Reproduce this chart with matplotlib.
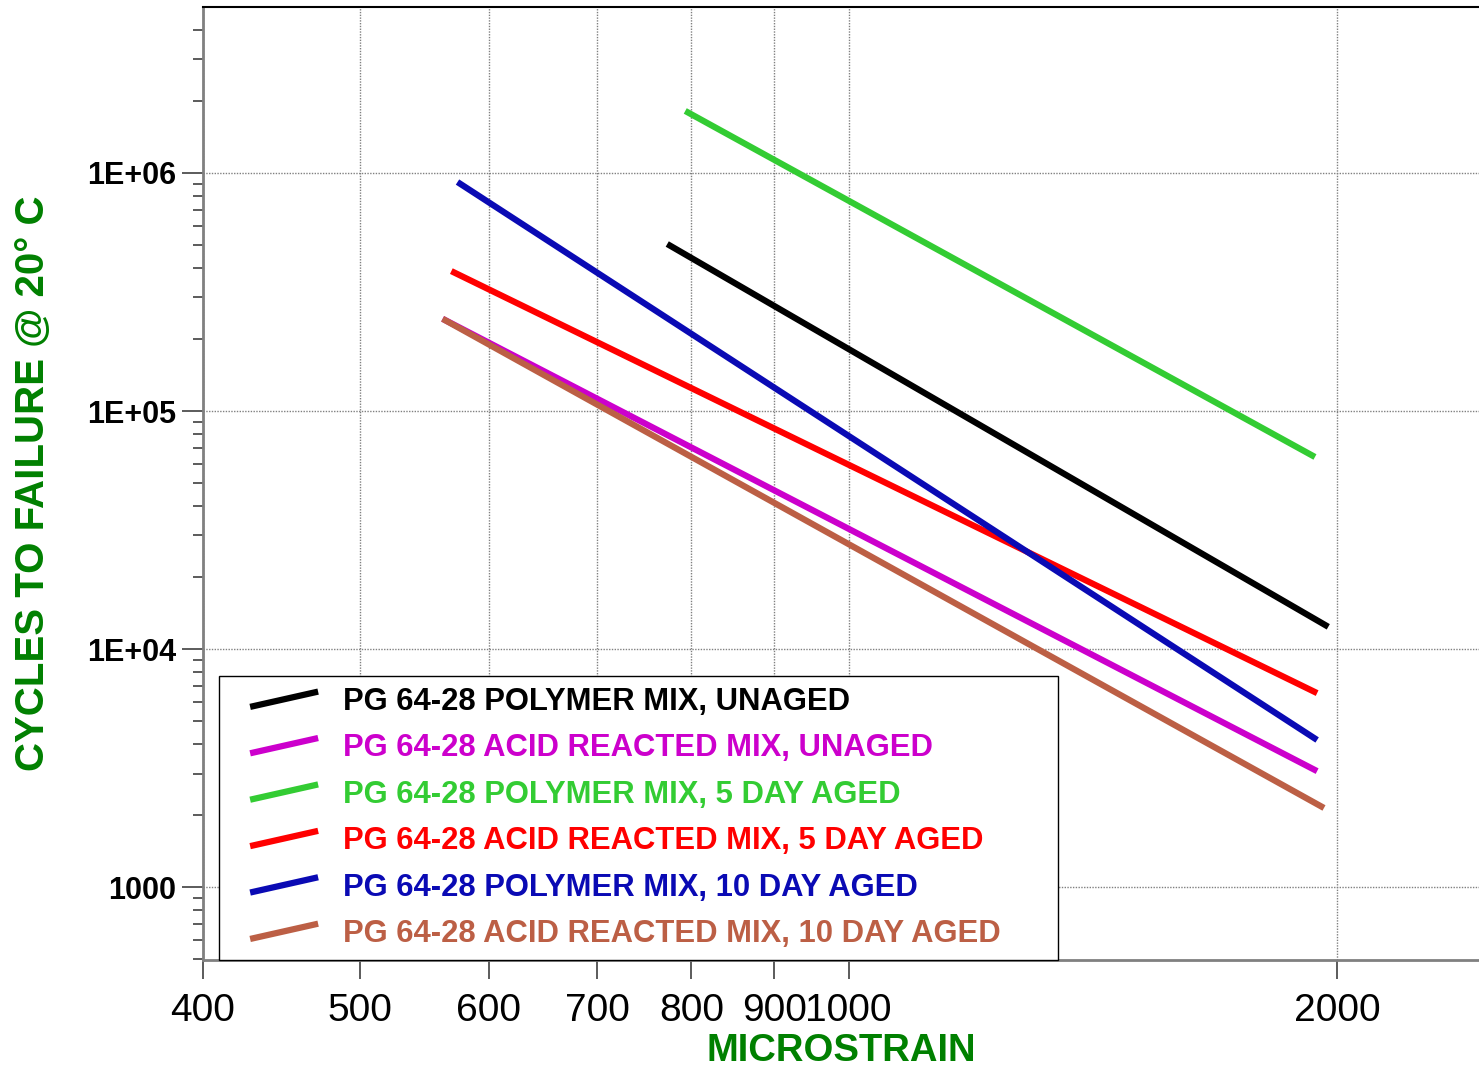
import numpy as np
import matplotlib
matplotlib.use("Agg")
import matplotlib.pyplot as plt
from matplotlib.lines import Line2D
from matplotlib.legend_handler import HandlerBase
from matplotlib.ticker import FixedLocator, FixedFormatter, LogLocator, NullLocator, NullFormatter

plt.rcParams['font.family'] = ['Liberation Sans', 'DejaVu Sans']

# Fatigue lines (end points of each fitted power-law line)
labels = [
    "PG 64-28 POLYMER MIX, UNAGED",
    "PG 64-28 ACID REACTED MIX, UNAGED",
    "PG 64-28 POLYMER MIX, 5 DAY AGED",
    "PG 64-28 ACID REACTED MIX, 5 DAY AGED",
    "PG 64-28 POLYMER MIX, 10 DAY AGED",
    "PG 64-28 ACID REACTED MIX, 10 DAY AGED",
]
colors = ["#000000", "#CC00CC", "#33CC33", "#FF0000", "#0A0AB4", "#BC5F45"]

strain_start = [773, 562, 793, 569, 574, 562]
strain_end = [1975, 1944, 1938, 1944, 1944, 1963]
cycles_start = [503000, 244000, 1822000, 387000, 916000, 244000]
cycles_end = [12400, 3070, 64100, 6530, 4150, 2150]

xticks = [400, 500, 600, 700, 800, 900, 1000, 2000]
xticklabels = ["400", "500", "600", "700", "800", "900", "1000", "2000"]
yticks = [1000, 1e4, 1e5, 1e6]
yticklabels = ["1000", "1E+04", "1E+05", "1E+06"]


class SlantHandler(HandlerBase):
    # legend handle drawn as a short rising line, like the original software
    def create_artists(self, legend, orig_handle, xdescent, ydescent,
                       width, height, fontsize, trans):
        x0 = -xdescent + width * 0.23
        x1 = -xdescent + width
        yc = -ydescent + height / 2.0
        line = Line2D([x0, x1], [yc - 5.5, yc + 5.5],
                      color=orig_handle.get_color(),
                      linewidth=orig_handle.get_linewidth(),
                      solid_capstyle='butt')
        line.set_transform(trans)
        return [line]


fig = plt.figure(figsize=(14.79, 10.69), dpi=100)
ax = fig.add_axes([203 / 1479, 109 / 1069, 1276 / 1479, 953 / 1069])

handles = []
for i in range(len(labels)):
    h, = ax.plot([strain_start[i], strain_end[i]], [cycles_start[i], cycles_end[i]],
                 color=colors[i], linewidth=4.5, solid_capstyle='butt', label=labels[i], zorder=3)
    handles.append(h)

ax.set_xscale('log')
ax.set_yscale('log')
ax.set_xlim(400, 2446)
ax.set_ylim(494, 4.98e6)

ax.xaxis.set_major_locator(FixedLocator(xticks))
ax.xaxis.set_major_formatter(FixedFormatter(xticklabels))
ax.xaxis.set_minor_locator(NullLocator())
ax.yaxis.set_major_locator(FixedLocator(yticks))
ax.yaxis.set_major_formatter(FixedFormatter(yticklabels))
ax.yaxis.set_minor_locator(LogLocator(base=10, subs=np.arange(2, 10)))
ax.yaxis.set_minor_formatter(NullFormatter())

ax.tick_params(axis='x', which='major', direction='out', length=14, width=1.2,
               color='#404040', labelsize=28, pad=10)
ax.tick_params(axis='y', which='major', direction='out', length=15, width=1.2,
               color='#404040', labelsize=22, pad=4)
ax.tick_params(axis='y', which='minor', direction='out', length=7, width=1.2, color='#404040')
for t in ax.get_yticklabels():
    t.set_fontweight('bold')

ax.grid(True, which='major', color='#808080', linestyle=(0, (1, 1)), linewidth=1.0)

ax.spines['right'].set_visible(False)
ax.spines['top'].set_color('black')
ax.spines['top'].set_linewidth(1.5)
ax.spines['left'].set_color('#808080')
ax.spines['left'].set_linewidth(2)
ax.spines['bottom'].set_color('#808080')
ax.spines['bottom'].set_linewidth(2)

ax.set_xlabel("MICROSTRAIN", fontsize=27.5, fontweight='bold', color='#008000')
ax.set_ylabel("CYCLES TO FAILURE @ 20° C", fontsize=29, fontweight='bold', color='#008000')
ax.xaxis.set_label_coords(0.5, -0.077)
ax.yaxis.set_label_coords(-0.118, 0.5)

leg = ax.legend(handles=handles, loc='lower left',
                bbox_to_anchor=((219 - 203) / 1276, 0.0, (1058 - 219) / 1276, 0.3),
                mode='expand', borderaxespad=0, borderpad=0.35,
                handlelength=2.85, handletextpad=0.8, labelspacing=0.53,
                fancybox=False, edgecolor='black', framealpha=1,
                prop={'size': 22.3, 'weight': 'bold'},
                handler_map={Line2D: SlantHandler()})
leg.get_frame().set_linewidth(1.0)
leg.set_zorder(5)
for txt, c in zip(leg.get_texts(), colors):
    txt.set_color(c)

fig.savefig("out.png", dpi=100)
